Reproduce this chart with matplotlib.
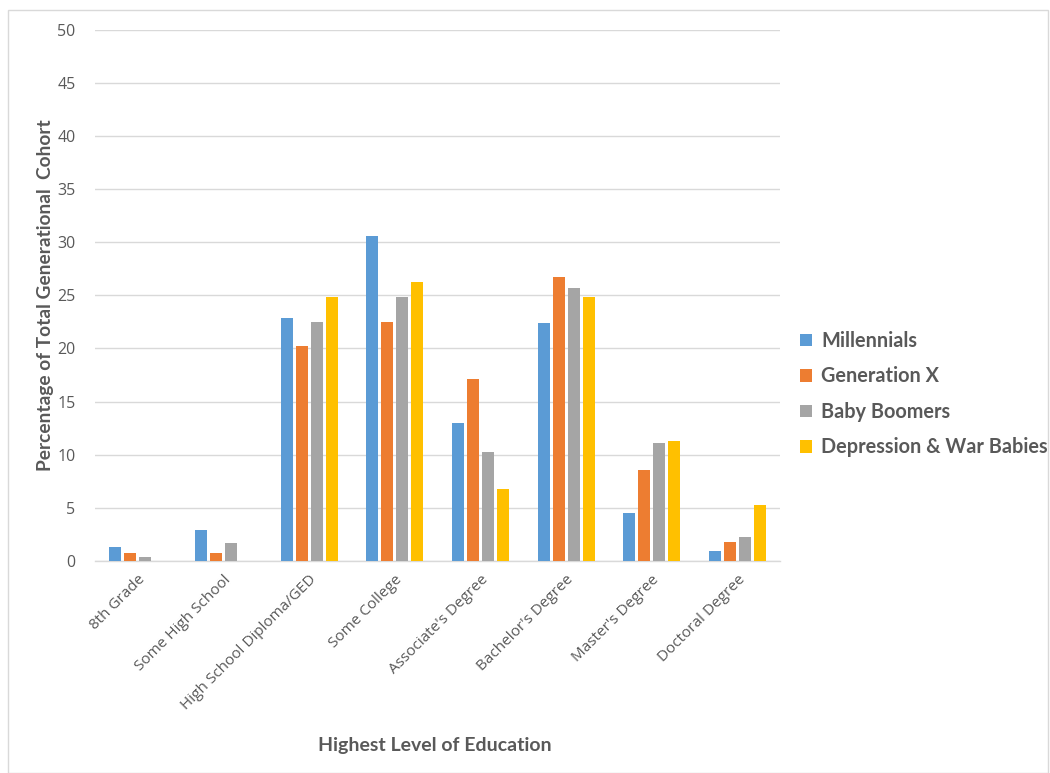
import matplotlib
matplotlib.use("Agg")
import matplotlib.pyplot as plt
import numpy as np
from matplotlib.patches import Rectangle

categories = ["8th Grade", "Some High School", "High School Diploma/GED",
              "Some College", "Associate's Degree", "Bachelor's Degree",
              "Master's Degree", "Doctoral Degree"]
series_names = ["Millennials", "Generation X", "Baby Boomers",
                "Depression & War Babies"]
millennials = [1.3, 2.9, 22.85, 30.6, 13.0, 22.4, 4.55, 0.9]
generation_x = [0.75, 0.75, 20.25, 22.5, 17.1, 26.7, 8.55, 1.75]
baby_boomers = [0.4, 1.7, 22.5, 24.8, 10.3, 25.7, 11.1, 2.3]
war_babies = [0.0, 0.0, 24.8, 26.3, 6.75, 24.8, 11.25, 5.25]
y_ticks = [0, 5, 10, 15, 20, 25, 30, 35, 40, 45, 50]

colors = ["#5B9BD5", "#ED7D31", "#A5A5A5", "#FFC000"]
text_gray = "#595959"
plt.rcParams["font.family"] = ["Lato", "DejaVu Sans"]
tick_font = ["Open Sans", "DejaVu Sans"]

fig = plt.figure(figsize=(10.5, 7.73), dpi=100)
ax = fig.add_axes([0.0905, 0.2743, 0.6525, 0.6873])

x = np.arange(len(categories))
step = 0.175
width = 0.14
all_series = [millennials, generation_x, baby_boomers, war_babies]
for i, (vals, name, c) in enumerate(zip(all_series, series_names, colors)):
    ax.bar(x + (i - 1.5) * step, vals, width=width, color=c, label=name, zorder=3)

ax.set_xlim(-0.5, len(categories) - 0.5)
ax.set_ylim(0, 50)
ax.set_yticks(y_ticks)
ax.set_yticklabels([str(t) for t in y_ticks], fontsize=11.5, color=text_gray,
                   family=tick_font)
ax.set_xticks(x)
ax.set_xticklabels(categories, rotation=45, ha="right", rotation_mode="anchor",
                   fontsize=11, color=text_gray, family=tick_font)
ax.tick_params(axis="both", length=0)
ax.tick_params(axis="y", pad=14)
ax.tick_params(axis="x", pad=8)
ax.grid(axis="y", color="#D9D9D9", linewidth=1, zorder=0)
for s in ["top", "right", "left"]:
    ax.spines[s].set_visible(False)
ax.spines["bottom"].set_color("#D9D9D9")
ax.spines["bottom"].set_linewidth(1)

ax.set_ylabel("Percentage of Total Generational  Cohort", fontsize=13.8,
              fontweight="bold", color=text_gray)
ax.yaxis.set_label_coords(-0.06, 0.5)
fig.text(0.414, 0.035, "Highest Level of Education", ha="center", va="center",
         fontsize=14, fontweight="bold", color=text_gray)

leg = fig.legend(loc="center left", bbox_to_anchor=(0.745, 0.49), frameon=False,
                 fontsize=14.3, handlelength=0.6, handleheight=0.6,
                 handletextpad=0.45, labelspacing=0.78)
for t in leg.get_texts():
    t.set_color(text_gray)
    t.set_fontweight("bold")

fig.patches.append(Rectangle((0.008, 0.0), 0.99, 0.987, transform=fig.transFigure,
                             fill=False, edgecolor="#D9D9D9", linewidth=1))

fig.savefig("out.png", dpi=100, facecolor="white")
